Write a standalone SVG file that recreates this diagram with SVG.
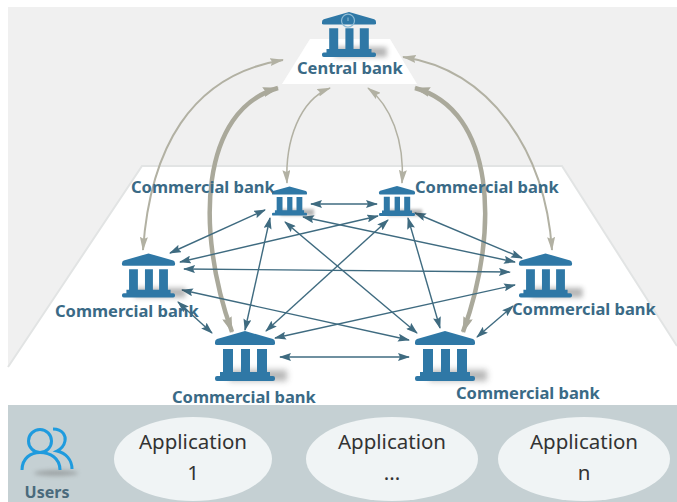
<svg xmlns="http://www.w3.org/2000/svg" width="677" height="502" viewBox="0 0 677 502">
<style>
text{font-family:"Noto Sans","Open Sans",sans-serif}
.lb{font-size:16.500px;font-weight:700;fill:#3a6a86}
.ap{font-size:20.500px;fill:#333;text-anchor:middle}
.d{fill:none;stroke:#3f6b80;stroke-width:1.400;marker-start:url(#ad);marker-end:url(#ad)}
.g{fill:none;stroke:#b2b1a3;stroke-width:2;marker-start:url(#ag);marker-end:url(#ag)}
.t{fill:none;stroke:#aaa99b;stroke-width:4.500;marker-start:url(#at);marker-end:url(#at)}
.app{fill:#f0f4f5}
</style>
<defs>
<filter id="bl" x="-30%" y="-100%" width="160%" height="300%"><feGaussianBlur stdDeviation="3"/></filter>
<filter id="bl2" x="-30%" y="-100%" width="160%" height="300%"><feGaussianBlur stdDeviation="2"/></filter>
<marker id="ad" viewBox="0 0 12 8" refX="11" refY="4" markerWidth="12" markerHeight="8" markerUnits="userSpaceOnUse" orient="auto-start-reverse"><path d="M0,0L12,4L0,8L2,4Z" fill="#3f6b80"/></marker>
<marker id="ag" viewBox="0 0 14 8" refX="13" refY="4" markerWidth="14" markerHeight="8" markerUnits="userSpaceOnUse" orient="auto-start-reverse"><path d="M0,0L14,4L0,8L2,4Z" fill="#b2b1a3"/></marker>
<marker id="at" viewBox="0 0 16 10" refX="15" refY="5" markerWidth="16" markerHeight="10" markerUnits="userSpaceOnUse" orient="auto-start-reverse"><path d="M0,0L16,5L0,10L2,5Z" fill="#aaa99b"/></marker>
<symbol id="bank" viewBox="0 0 60 50" overflow="visible">
<rect x="14" y="39" width="58" height="11" fill="#333" opacity=".35" filter="url(#bl)"/>
<path fill="#2f78a6" d="M30,0L58,8Q60,9 60,11V12.500Q60,14 58,14H2Q0,14 0,12.500V11Q0,9 2,8Z"/>
<path fill="#2f78a6" d="M8,18H18V41H26V18H35V41H42V18H52V41H55V45H58Q60,45 60,47V48Q60,50 58,50H2Q0,50 0,48V47Q0,45 2,45H5V41H8Z"/>
</symbol>
</defs>
<rect id="page" x="8" y="7" width="669" height="398" fill="#f0f0f0"/>
<path id="platform" d="M142,166H562L677,346V405H8V367Z" fill="#fff"/>
<path id="platform-edge" d="M8,367L142,166H562L677,346" fill="none" stroke="#e2e4e4" stroke-width="2"/>
<path id="top-platform" d="M310,39H390L417,84H282Z" fill="#fff"/>
<rect id="band" x="8" y="405" width="669" height="97" fill="#c5d0d3"/>
<g id="connectors">
<path class="g" d="M283,60C190,75 150,150 143,250"/>
<path class="g" d="M403,57C490,70 545,150 552,250"/>
<path class="t" d="M278,88C200,110 195,230 232,332"/>
<path class="t" d="M415,88C495,110 500,230 463,332"/>
<path class="g" style="stroke-width:1.500" d="M330,88C300,100 285,140 287,183"/>
<path class="g" style="stroke-width:1.500" d="M368,88C390,105 405,140 402,183"/>
<path class="d" d="M311,204H377"/>
<path class="d" d="M170,253L265,210"/>
<path class="d" d="M180,262L378,216"/>
<path class="d" d="M184,269L510,272"/>
<path class="d" d="M182,290L409,340"/>
<path class="d" d="M178,302L212,333"/>
<path class="d" d="M303,217L515,262"/>
<path class="d" d="M415,213L522,258"/>
<path class="d" d="M270,218L245,330"/>
<path class="d" d="M285,222L417,333"/>
<path class="d" d="M388,220L266,331"/>
<path class="d" d="M408,218L440,328"/>
<path class="d" d="M515,285L275,338"/>
<path class="d" d="M513,306L477,337"/>
<path class="d" d="M280,357H409"/>
</g>
<g id="central"><use href="#bank" x="322" y="12" width="54" height="45"/>
<circle cx="348" cy="20.700" r="6.500" fill="none" stroke="#8fbbd4" stroke-width="1.200"/>
<path d="M348,17.500V21" fill="none" stroke="#8fbbd4" stroke-width="1"/>
<text class="lb" x="297" y="74">Central bank</text></g>
<g id="bank-small-left"><use href="#bank" x="272" y="186" width="35" height="30"/><text class="lb" x="131" y="192.500">Commercial bank</text></g>
<g id="bank-small-right"><use href="#bank" x="379" y="186" width="36" height="30"/><text class="lb" x="415" y="192.500">Commercial bank</text></g>
<g id="bank-left"><use href="#bank" x="122" y="253" width="53" height="45"/><text class="lb" x="55" y="316.500">Commercial bank</text></g>
<g id="bank-right"><use href="#bank" x="519" y="253" width="53" height="45"/><text class="lb" x="512" y="314.500">Commercial bank</text></g>
<g id="bank-bottom-left"><use href="#bank" x="215" y="331" width="60" height="50"/><text class="lb" x="172" y="402.500">Commercial bank</text></g>
<g id="bank-bottom-right"><use href="#bank" x="415" y="331" width="60" height="50"/><text class="lb" x="456" y="398.500">Commercial bank</text></g>
<g id="users">
<ellipse cx="56" cy="473" rx="22" ry="3" fill="#666" opacity=".4" filter="url(#bl2)"/>
<circle cx="40" cy="441" r="11.500" fill="none" stroke="#1f9bde" stroke-width="3"/>
<path d="M22,470C22,458 31,452.500 40,452.500C50,452.500 60,458 60,470" fill="none" stroke="#1f9bde" stroke-width="3"/>
<path d="M53,429C63,429 66,436 65,441C64,446 61,449 57,451C66,453 72,460 72,469" fill="none" stroke="#1f9bde" stroke-width="3"/>
<text x="47" y="498" text-anchor="middle" font-size="16" font-weight="700" fill="#4a6a7c">Users</text>
</g>
<g id="app-1"><ellipse class="app" cx="193" cy="459" rx="79" ry="42"/><text class="ap" x="193" y="449">Application</text><text class="ap" x="193" y="480">1</text></g>
<g id="app-2"><ellipse class="app" cx="392" cy="459" rx="86" ry="42"/><text class="ap" x="392" y="449">Application</text><text class="ap" x="392" y="480">...</text></g>
<g id="app-n"><ellipse class="app" cx="584" cy="459" rx="86" ry="42"/><text class="ap" x="584" y="449">Application</text><text class="ap" x="584" y="480">n</text></g>
</svg>
